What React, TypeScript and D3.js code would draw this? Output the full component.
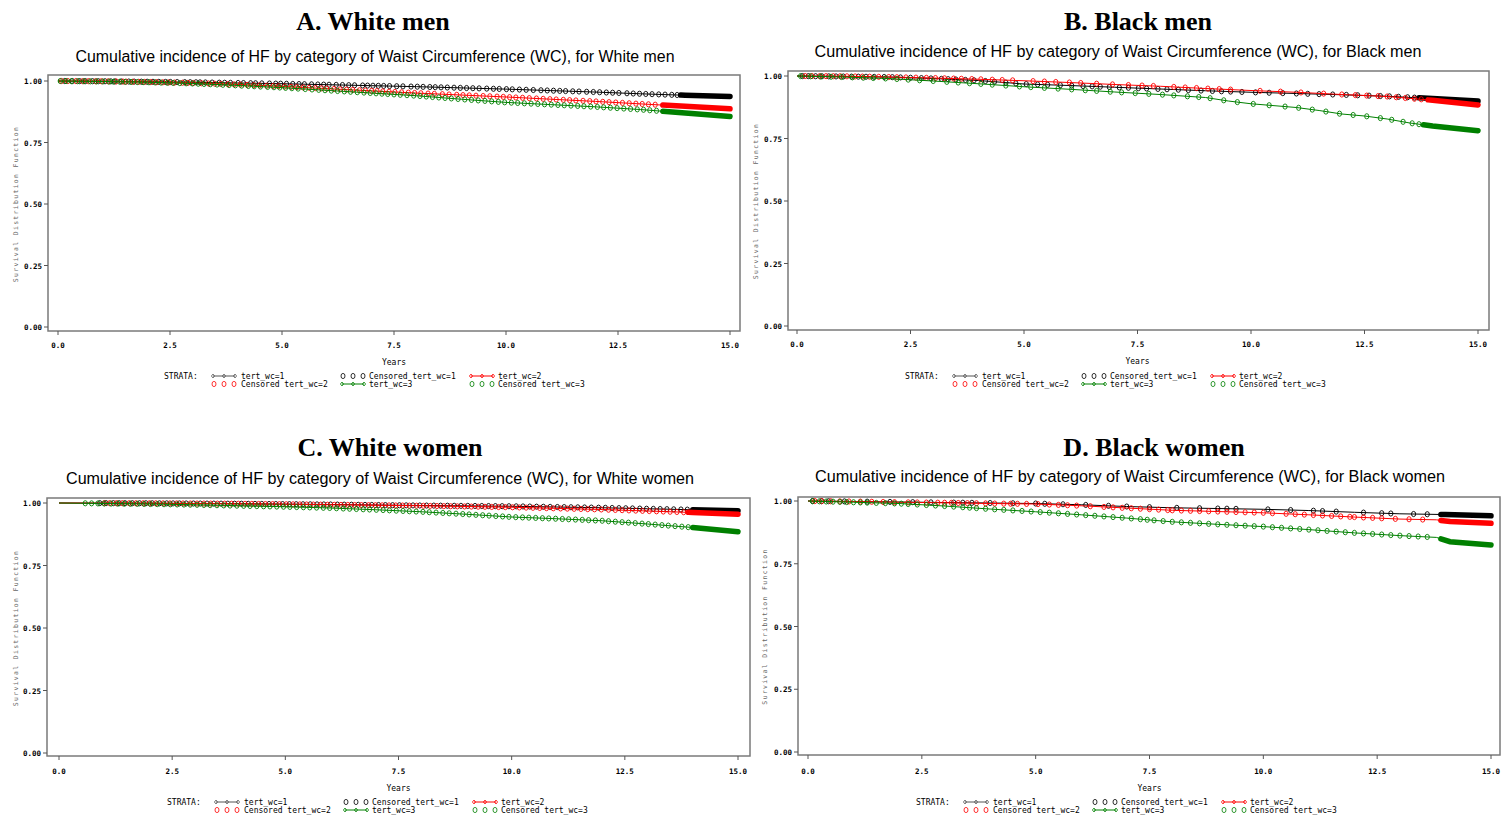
import React from "react";
import * as d3 from "d3";

// Shared axes
const xTicks = [0, 2.5, 5, 7.5, 10, 12.5, 15];
const yTicks = [0, 0.25, 0.5, 0.75, 1];
const strataLabels = ["tert_wc=1", "tert_wc=2", "tert_wc=3"];
const strataColors = ["#000000", "#ff0000", "#008000"];

type Knot = [number, number];

// A. White men — survival knots (years, S(t))
const wmSurv1: Knot[] = [[0, 1], [1, 0.999], [2, 0.997], [3, 0.995], [4, 0.992], [5, 0.989], [6, 0.985], [7, 0.981], [8, 0.977], [9, 0.972], [10, 0.967], [11, 0.961], [12, 0.955], [13, 0.948], [14, 0.942], [15, 0.937]];
const wmSurv2: Knot[] = [[0, 1], [1, 0.999], [2, 0.996], [3, 0.992], [4, 0.986], [5, 0.978], [6, 0.969], [7, 0.96], [8, 0.951], [9, 0.943], [10, 0.935], [11, 0.926], [12, 0.917], [13, 0.907], [14, 0.897], [15, 0.887]];
const wmSurv3: Knot[] = [[0, 1], [1, 0.998], [2, 0.995], [3, 0.99], [4, 0.982], [5, 0.973], [6, 0.962], [7, 0.951], [8, 0.94], [9, 0.926], [10, 0.913], [11, 0.904], [12, 0.895], [13, 0.884], [14, 0.87], [15, 0.856]];
const wmCens1 = [0.15, 0.32, 0.48, 0.61, 0.77, 0.9, 1.05, 1.18, 1.27, 1.41, 1.58, 1.7, 1.86, 1.99, 2.12, 2.25, 2.4, 2.51, 2.66, 2.83, 2.95, 3.08, 3.17, 3.29, 3.44, 3.6, 3.72, 3.85, 4.02, 4.14, 4.3, 4.41, 4.55, 4.72, 4.86, 4.97, 5.1, 5.24, 5.38, 5.5, 5.66, 5.8, 5.93, 6.05, 6.21, 6.35, 6.49, 6.62, 6.8, 6.91, 7.03, 7.15, 7.27, 7.4, 7.56, 7.7, 7.88, 8.02, 8.15, 8.3, 8.42, 8.55, 8.69, 8.84, 8.98, 9.12, 9.26, 9.4, 9.57, 9.72, 9.85, 10.01, 10.14, 10.3, 10.45, 10.61, 10.78, 10.92, 11.06, 11.2, 11.33, 11.49, 11.63, 11.8, 11.95, 12.09, 12.24, 12.38, 12.52, 12.7, 12.84, 12.98, 13.12, 13.26, 13.41, 13.55, 13.7, 13.82];
const wmCens2 = [0.08, 0.22, 0.4, 0.55, 0.68, 0.84, 0.97, 1.12, 1.3, 1.45, 1.52, 1.67, 1.8, 1.93, 2.07, 2.2, 2.34, 2.47, 2.6, 2.78, 2.9, 3.02, 3.2, 3.36, 3.5, 3.63, 3.79, 3.93, 4.07, 4.22, 4.37, 4.5, 4.66, 4.8, 4.92, 5.06, 5.2, 5.33, 5.47, 5.61, 5.75, 5.88, 6.0, 6.16, 6.3, 6.44, 6.58, 6.73, 6.86, 7.0, 7.12, 7.25, 7.39, 7.52, 7.67, 7.82, 7.96, 8.1, 8.26, 8.4, 8.58, 8.73, 8.9, 9.04, 9.18, 9.33, 9.49, 9.64, 9.8, 9.94, 10.08, 10.22, 10.37, 10.52, 10.68, 10.83, 10.98, 11.12, 11.28, 11.42, 11.56, 11.72, 11.87, 12.01, 12.16, 12.3, 12.45, 12.6, 12.75, 12.9, 13.04, 13.18, 13.33];
const wmCens3 = [0.05, 0.18, 0.3, 0.44, 0.58, 0.72, 0.86, 1.0, 1.14, 1.24, 1.38, 1.5, 1.63, 1.77, 1.9, 2.03, 2.17, 2.3, 2.44, 2.57, 2.72, 2.86, 3.0, 3.13, 3.26, 3.4, 3.55, 3.68, 3.82, 3.96, 4.1, 4.25, 4.38, 4.52, 4.68, 4.82, 4.95, 5.08, 5.22, 5.36, 5.52, 5.67, 5.82, 5.96, 6.1, 6.24, 6.39, 6.53, 6.68, 6.83, 6.97, 7.1, 7.23, 7.36, 7.5, 7.64, 7.79, 7.94, 8.08, 8.22, 8.36, 8.5, 8.64, 8.78, 8.93, 9.08, 9.23, 9.38, 9.53, 9.68, 9.83, 9.97, 10.12, 10.26, 10.41, 10.56, 10.71, 10.86, 11.01, 11.16, 11.3, 11.45, 11.6, 11.74, 11.89, 12.04, 12.18, 12.33, 12.48, 12.63, 12.78, 12.93, 13.07, 13.21, 13.36];
const wmBand = [13.9, 13.5, 13.5];

// B. Black men
const bmSurv1: Knot[] = [[0, 1], [1, 0.998], [2, 0.996], [3, 0.99], [4, 0.982], [5, 0.968], [6, 0.962], [7, 0.955], [8, 0.948], [9, 0.941], [10, 0.935], [11, 0.93], [12, 0.925], [13, 0.919], [14, 0.91], [15, 0.9]];
const bmSurv2: Knot[] = [[0, 1], [1, 0.999], [2, 0.996], [3, 0.992], [4, 0.987], [5, 0.981], [6, 0.974], [7, 0.966], [8, 0.959], [9, 0.95], [10, 0.942], [11, 0.935], [12, 0.926], [13, 0.918], [14, 0.903], [15, 0.884]];
const bmSurv3: Knot[] = [[0, 1], [1, 0.996], [2, 0.99], [3, 0.98], [4, 0.969], [5, 0.957], [6, 0.947], [7, 0.936], [8, 0.926], [9, 0.914], [9.5, 0.9], [10, 0.889], [11, 0.874], [11.5, 0.862], [12, 0.848], [12.5, 0.84], [13, 0.828], [13.5, 0.812], [14, 0.8], [15, 0.781]];
const bmCens1 = [0.12, 0.25, 0.41, 0.55, 0.7, 0.86, 1.02, 1.2, 1.35, 1.52, 1.7, 1.92, 2.1, 2.28, 2.5, 2.74, 2.95, 3.18, 3.33, 3.5, 3.71, 3.9, 4.15, 4.35, 4.6, 4.82, 5.05, 5.3, 5.52, 5.8, 6.05, 6.3, 6.5, 6.68, 6.88, 7.1, 7.3, 7.52, 7.7, 7.95, 8.15, 8.4, 8.62, 8.9, 9.15, 9.35, 9.55, 9.8, 10.1, 10.4, 10.7, 11.0, 11.25, 11.5, 11.8, 12.1, 12.35, 12.6, 12.85, 13.05, 13.25, 13.45, 13.6];
const bmCens2 = [0.18, 0.33, 0.5, 0.64, 0.8, 0.95, 1.1, 1.28, 1.44, 1.6, 1.8, 2.02, 2.2, 2.4, 2.62, 2.85, 3.05, 3.25, 3.45, 3.62, 3.85, 4.05, 4.3, 4.52, 4.75, 5.2, 5.45, 5.7, 6.0, 6.25, 6.6, 6.95, 7.3, 7.6, 7.85, 8.3, 8.55, 8.8, 9.05, 9.3, 9.55, 10.2, 10.65, 11.1, 11.6, 12.0, 12.3, 12.55, 12.8, 13.0, 13.2, 13.4, 13.6, 13.75];
const bmCens3 = [0.08, 0.3, 0.52, 0.75, 0.98, 1.22, 1.46, 1.68, 1.95, 2.2, 2.45, 2.7, 3.0, 3.3, 3.55, 3.8, 4.05, 4.3, 4.6, 4.9, 5.15, 5.45, 5.75, 6.05, 6.35, 6.6, 6.9, 7.15, 7.45, 7.75, 8.05, 8.3, 8.6, 8.85, 9.1, 9.4, 9.7, 10.05, 10.4, 10.75, 11.05, 11.35, 11.65, 11.95, 12.25, 12.55, 12.85, 13.1, 13.35, 13.55, 13.7];
const bmBand = [13.7, 13.9, 13.8];

// C. White women
const wwSurv1: Knot[] = [[0, 1], [2, 0.999], [4, 0.997], [6, 0.994], [8, 0.99], [10, 0.987], [12, 0.981], [13, 0.977], [14, 0.973], [15, 0.969]];
const wwSurv2: Knot[] = [[0, 1], [2, 0.999], [4, 0.997], [6, 0.993], [8, 0.989], [10, 0.983], [12, 0.974], [13, 0.968], [14, 0.962], [15, 0.955]];
const wwSurv3: Knot[] = [[0, 1], [1, 0.998], [2, 0.996], [3, 0.993], [4, 0.989], [5, 0.985], [6, 0.98], [7, 0.973], [8, 0.965], [9, 0.955], [10, 0.944], [11, 0.937], [12, 0.929], [13, 0.916], [14, 0.902], [15, 0.885]];
const wwCens1 = [0.9, 1.04, 1.2, 1.33, 1.46, 1.62, 1.78, 1.92, 2.06, 2.22, 2.38, 2.52, 2.66, 2.81, 2.97, 3.12, 3.27, 3.42, 3.58, 3.73, 3.88, 4.03, 4.18, 4.33, 4.48, 4.64, 4.79, 4.94, 5.09, 5.24, 5.39, 5.55, 5.7, 5.85, 6.0, 6.15, 6.3, 6.46, 6.61, 6.76, 6.91, 7.06, 7.21, 7.37, 7.52, 7.67, 7.82, 7.97, 8.12, 8.28, 8.43, 8.58, 8.73, 8.88, 9.03, 9.19, 9.34, 9.49, 9.64, 9.79, 9.94, 10.1, 10.25, 10.4, 10.55, 10.7, 10.85, 11.01, 11.16, 11.31, 11.46, 11.61, 11.76, 11.92, 12.07, 12.22, 12.37, 12.52, 12.67, 12.83, 12.98, 13.13, 13.28, 13.43, 13.58, 13.74, 13.88];
const wwCens2 = [1.0, 1.12, 1.27, 1.4, 1.55, 1.7, 1.86, 2.0, 2.14, 2.3, 2.45, 2.6, 2.74, 2.9, 3.05, 3.2, 3.35, 3.5, 3.66, 3.81, 3.96, 4.11, 4.26, 4.41, 4.56, 4.72, 4.87, 5.02, 5.17, 5.32, 5.47, 5.62, 5.78, 5.93, 6.08, 6.23, 6.38, 6.53, 6.68, 6.84, 6.99, 7.14, 7.29, 7.44, 7.59, 7.74, 7.9, 8.05, 8.2, 8.35, 8.5, 8.65, 8.8, 8.96, 9.11, 9.26, 9.41, 9.56, 9.71, 9.86, 10.02, 10.17, 10.32, 10.47, 10.62, 10.77, 10.92, 11.08, 11.23, 11.38, 11.53, 11.68, 11.83, 11.98, 12.14, 12.29, 12.44, 12.59, 12.74, 12.89, 13.04, 13.2, 13.35, 13.5, 13.65, 13.8];
const wwCens3 = [0.58, 0.72, 0.86, 1.0, 1.15, 1.3, 1.44, 1.58, 1.73, 1.88, 2.02, 2.17, 2.32, 2.46, 2.61, 2.76, 2.9, 3.05, 3.2, 3.34, 3.49, 3.64, 3.78, 3.93, 4.08, 4.22, 4.37, 4.52, 4.66, 4.81, 4.96, 5.1, 5.25, 5.4, 5.54, 5.69, 5.84, 5.98, 6.13, 6.28, 6.42, 6.57, 6.72, 6.86, 7.01, 7.16, 7.3, 7.45, 7.6, 7.74, 7.89, 8.04, 8.18, 8.33, 8.48, 8.62, 8.77, 8.92, 9.06, 9.21, 9.36, 9.5, 9.65, 9.8, 9.94, 10.09, 10.24, 10.38, 10.53, 10.68, 10.82, 10.97, 11.12, 11.26, 11.41, 11.56, 11.7, 11.85, 12.0, 12.14, 12.29, 12.44, 12.58, 12.73, 12.88, 13.02, 13.17, 13.32, 13.46, 13.61, 13.76, 13.9];
const wwBand = [14.0, 13.9, 14.0];

// D. Black women
const bwSurv1: Knot[] = [[0, 1], [1, 0.998], [2, 0.996], [3, 0.994], [4, 0.992], [5, 0.99], [6, 0.985], [7, 0.978], [8, 0.973], [9, 0.97], [10, 0.967], [11, 0.962], [12, 0.955], [13, 0.949], [14, 0.946], [15, 0.941]];
const bwSurv2: Knot[] = [[0, 1], [1, 0.998], [2, 0.995], [3, 0.993], [4, 0.99], [5, 0.988], [6, 0.981], [7, 0.972], [8, 0.963], [9, 0.958], [10, 0.953], [11, 0.945], [12, 0.936], [13, 0.928], [13.8, 0.925], [14.1, 0.918], [15, 0.911]];
const bwSurv3: Knot[] = [[0, 1], [1, 0.995], [2, 0.99], [3, 0.98], [4, 0.968], [5, 0.957], [6, 0.945], [7, 0.932], [8, 0.917], [9, 0.907], [10, 0.898], [11, 0.886], [12, 0.873], [13, 0.862], [13.8, 0.855], [14.1, 0.838], [15, 0.825]];
const bwCens1 = [0.1, 0.3, 0.45, 0.8, 1.3, 1.8, 2.3, 2.7, 3.2, 3.4, 3.6, 4.0, 4.5, 5.0, 5.2, 5.6, 6.1, 6.6, 7.0, 7.5, 8.1, 8.6, 9.0, 9.2, 9.4, 10.1, 10.6, 11.1, 11.3, 11.6, 12.2, 12.6, 12.8, 13.3, 13.6];
const bwCens2 = [0.15, 0.3, 0.5, 0.7, 0.9, 1.15, 1.4, 1.65, 1.9, 2.2, 2.4, 2.6, 2.85, 3.0, 3.15, 3.3, 3.5, 3.7, 3.9, 4.1, 4.3, 4.45, 4.6, 4.8, 5.05, 5.3, 5.5, 5.7, 5.9, 6.2, 6.5, 6.7, 6.9, 7.1, 7.3, 7.5, 7.7, 7.9, 8.0, 8.2, 8.4, 8.6, 8.8, 9.0, 9.2, 9.4, 9.6, 9.8, 10.0, 10.2, 10.5, 10.7, 10.9, 11.1, 11.3, 11.5, 11.7, 11.9, 12.0, 12.2, 12.4, 12.6, 12.9, 13.2, 13.5];
const bwCens3 = [0.1, 0.25, 0.4, 0.55, 0.7, 0.85, 1.0, 1.15, 1.3, 1.5, 1.7, 1.9, 2.05, 2.2, 2.4, 2.6, 2.8, 3.0, 3.2, 3.4, 3.55, 3.7, 3.9, 4.1, 4.3, 4.5, 4.7, 4.9, 5.1, 5.3, 5.5, 5.7, 5.9, 6.1, 6.3, 6.5, 6.7, 6.9, 7.1, 7.3, 7.45, 7.6, 7.8, 8.0, 8.2, 8.4, 8.6, 8.8, 9.0, 9.2, 9.4, 9.6, 9.8, 10.0, 10.2, 10.4, 10.6, 10.8, 11.0, 11.2, 11.4, 11.6, 11.8, 12.0, 12.2, 12.4, 12.6, 12.8, 13.0, 13.2, 13.4, 13.6];
const bwBand = [13.9, 13.9, 13.9];

const panelTitles = ["A. White men", "B. Black men", "C. White women", "D. Black women"];
const panelGroups = ["White men", "Black men", "White women", "Black women"];

interface Geo {
  titleX: number; titleY: number; subX: number; subY: number; subW: number;
  left: number; top: number; right: number; bottom: number;
  x0: number; x15: number; y0: number; y1: number;
  tickY: number; yearsY: number; legY: number; strataX: number; ylabX: number;
}

const geos: Geo[] = [
  { titleX: 373, titleY: 30, subX: 375, subY: 62, subW: 599, left: 48, top: 75, right: 740, bottom: 331, x0: 58, x15: 730, y0: 327, y1: 81, tickY: 348, yearsY: 365, legY: 379, strataX: 164, ylabX: 18 },
  { titleX: 1138, titleY: 30, subX: 1118, subY: 57, subW: 607, left: 788, top: 71, right: 1489, bottom: 330, x0: 797, x15: 1478, y0: 326, y1: 76, tickY: 347, yearsY: 364, legY: 379, strataX: 905, ylabX: 758 },
  { titleX: 390, titleY: 456, subX: 380, subY: 484, subW: 628, left: 47, top: 498, right: 750, bottom: 756, x0: 59, x15: 738, y0: 753, y1: 503, tickY: 774, yearsY: 791, legY: 805, strataX: 167, ylabX: 18 },
  { titleX: 1154, titleY: 456, subX: 1130, subY: 482, subW: 630, left: 798, top: 497, right: 1500, bottom: 755, x0: 808, x15: 1491, y0: 752, y1: 501, tickY: 774, yearsY: 791, legY: 805, strataX: 916, ylabX: 767 },
];

const survival = [
  [wmSurv1, wmSurv2, wmSurv3],
  [bmSurv1, bmSurv2, bmSurv3],
  [wwSurv1, wwSurv2, wwSurv3],
  [bwSurv1, bwSurv2, bwSurv3],
];
const censored = [
  [wmCens1, wmCens2, wmCens3],
  [bmCens1, bmCens2, bmCens3],
  [wwCens1, wwCens2, wwCens3],
  [bwCens1, bwCens2, bwCens3],
];
const bands = [wmBand, bmBand, wwBand, bwBand];

const MONO = "'DejaVu Sans Mono', monospace";
const FRAME = "#7a7a7a";

function Legend({ x, y }: { x: number; y: number }) {
  const lineSym = (sx: number, sy: number, color: string, key: string) => (
    <g key={key}>
      <line x1={sx} x2={sx + 22} y1={sy} y2={sy} stroke={color} strokeWidth={1} />
      {[0, 11, 22].map((d) => (
        <path key={d} d={`M${sx + d},${sy - 2}L${sx + d + 1.6},${sy}L${sx + d},${sy + 2}L${sx + d - 1.6},${sy}Z`} fill="none" stroke={color} strokeWidth={0.8} />
      ))}
    </g>
  );
  const circSym = (sx: number, sy: number, color: string, key: string) => (
    <g key={key}>
      {[0, 10, 20].map((d) => (
        <ellipse key={d} cx={sx + d + 1} cy={sy} rx={2} ry={2.6} fill="none" stroke={color} strokeWidth={0.8} />
      ))}
    </g>
  );
  const r1 = y - 3;
  const r2 = y + 5;
  const txt = (tx: number, ty: number, s: string) => (
    <text x={tx} y={ty} fontFamily={MONO} fontSize={8} fill="#000">{s}</text>
  );
  return (
    <g>
      {txt(x, y, "STRATA:")}
      {lineSym(x + 49, r1, "#555", "l1")}
      {txt(x + 77, y, strataLabels[0])}
      {circSym(x + 178, r1, "#000", "c1")}
      {txt(x + 205, y, "Censored " + strataLabels[0])}
      {lineSym(x + 307, r1, strataColors[1], "l2")}
      {txt(x + 334, y, strataLabels[1])}
      {circSym(x + 49, r2, strataColors[1], "c2")}
      {txt(x + 77, y + 8, "Censored " + strataLabels[1])}
      {lineSym(x + 178, r2, strataColors[2], "l3")}
      {txt(x + 205, y + 8, strataLabels[2])}
      {circSym(x + 307, r2, strataColors[2], "c3")}
      {txt(x + 334, y + 8, "Censored " + strataLabels[2])}
    </g>
  );
}

function Panel({ idx }: { idx: number }) {
  const g = geos[idx];
  const x = d3.scaleLinear().domain([0, 15]).range([g.x0, g.x15]);
  const y = d3.scaleLinear().domain([0, 1]).range([g.y0, g.y1]);
  const line = d3.line<Knot>().x((d) => x(d[0])).y((d) => y(d[1]));
  const sub = `Cumulative incidence of HF by category of Waist Circumference (WC), for ${panelGroups[idx]}`;
  const midY = (g.y0 + g.y1) / 2;
  return (
    <g>
      <text x={g.titleX} y={g.titleY} textAnchor="middle" fontFamily="'Liberation Serif', 'Times New Roman', serif" fontWeight="bold" fontSize={26} fill="#000">
        {panelTitles[idx]}
      </text>
      <text x={g.subX} y={g.subY} textAnchor="middle" fontFamily="'Liberation Sans', Arial, sans-serif" fontSize={16} textLength={g.subW} lengthAdjust="spacingAndGlyphs" fill="#000">
        {sub}
      </text>
      <rect x={g.left} y={g.top} width={g.right - g.left} height={g.bottom - g.top} fill="#fff" stroke={FRAME} strokeWidth={1.5} />
      {yTicks.map((t) => (
        <g key={t}>
          <line x1={g.left - 4} x2={g.left} y1={y(t)} y2={y(t)} stroke="#555" strokeWidth={1} />
          <text x={g.left - 6} y={y(t) + 3} textAnchor="end" fontFamily={MONO} fontWeight="bold" fontSize={7.5} fill="#000">
            {d3.format(".2f")(t)}
          </text>
        </g>
      ))}
      {xTicks.map((t) => (
        <g key={t}>
          <line x1={x(t)} x2={x(t)} y1={g.bottom} y2={g.bottom + 4} stroke="#555" strokeWidth={1} />
          <text x={x(t)} y={g.tickY} textAnchor="middle" fontFamily={MONO} fontWeight="bold" fontSize={7.5} fill="#000">
            {d3.format(".1f")(t)}
          </text>
        </g>
      ))}
      <text x={x(7.5)} y={g.yearsY} textAnchor="middle" fontFamily={MONO} fontSize={8} fill="#000">Years</text>
      <text transform={`translate(${g.ylabX},${midY}) rotate(-90)`} textAnchor="middle" fontFamily={MONO} fontSize={6.5} letterSpacing={1.3} fill="#666">
        Survival Distribution Function
      </text>
      {survival[idx].map((knots, s) => {
        const interp = d3.scaleLinear().domain(knots.map((k) => k[0])).range(knots.map((k) => k[1]));
        const start = bands[idx][s];
        const bandPts: Knot[] = [[start, interp(start)], ...knots.filter((k) => k[0] > start)];
        const color = strataColors[s];
        return (
          <g key={s}>
            <path d={line(knots) ?? ""} fill="none" stroke={color} strokeWidth={1} />
            <path d={line(bandPts) ?? ""} fill="none" stroke={color} strokeWidth={5.5} strokeLinecap="round" />
            {censored[idx][s].map((t, i) => (
              <ellipse key={i} cx={x(t)} cy={y(interp(t))} rx={2.1} ry={2.6} fill="none" stroke={color} strokeWidth={0.9} />
            ))}
          </g>
        );
      })}
      <Legend x={g.strataX} y={g.legY} />
    </g>
  );
}

export default function App() {
  return (
    <svg width={1504} height={817} style={{ position: "absolute", left: 0, top: 0, background: "#fff" }}>
      <rect width={1504} height={817} fill="#fff" />
      {[0, 1, 2, 3].map((i) => (
        <Panel key={i} idx={i} />
      ))}
    </svg>
  );
}
